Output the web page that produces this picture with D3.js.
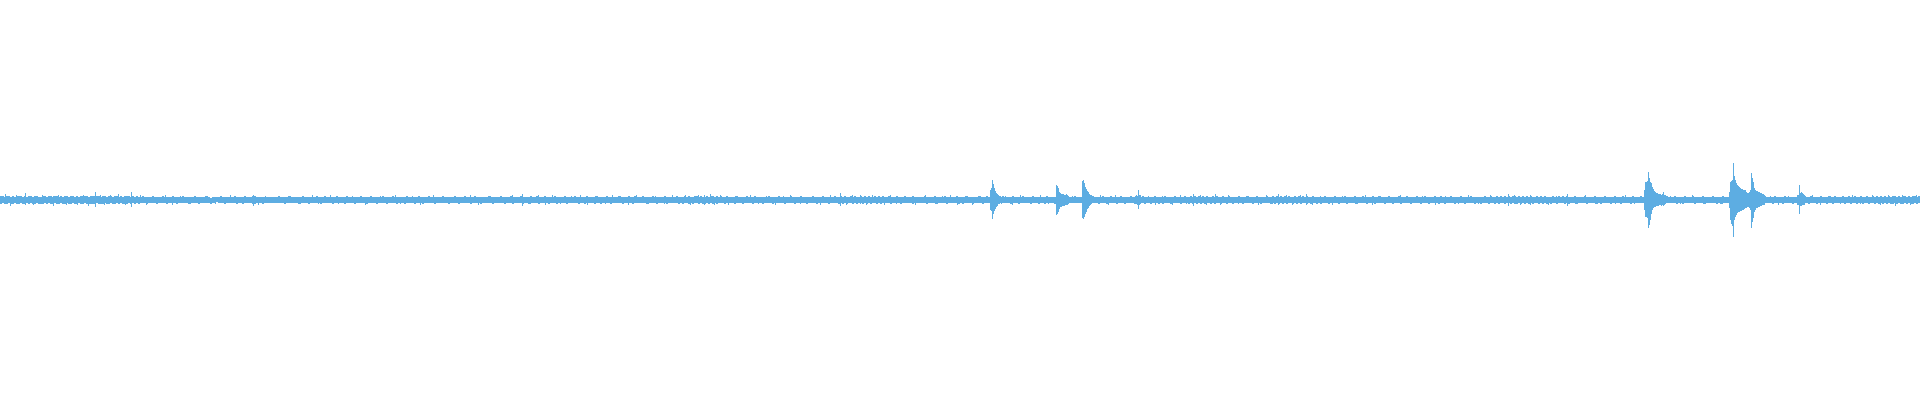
<!DOCTYPE html>
<html>
<head>
<meta charset="utf-8">
<script src="https://cdn.jsdelivr.net/npm/d3@7/dist/d3.min.js"></script>
<style>
  html, body { margin: 0; padding: 0; background: #ffffff; }
  svg { display: block; }
</style>
</head>
<body>
<svg id="chart" width="1920" height="400"></svg>
<script>
// Waveform peaks: amplitude units where full scale = 200.
// Baseline envelope, one value per 2 time bins (1920 bins total).
const baseHi = [
  4,4,3,4,4,3,4,3,4,4,4,3,4,3,4,4,3,4,4,3,
  3,4,4,3,4,4,3,4,4,3,4,3,4,4,3,4,4,3,4,3,
  4,4,4,4,3,4,4,4,4,4,3,4,4,3,4,4,3,4,4,3,
  4,3,4,4,4,3,4,3,4,3,3,4,3,3,3,3,4,3,3,3,
  3,4,3,3,3,3,4,3,3,3,3,4,3,3,3,3,3,4,3,3,
  3,3,3,4,3,2,3,3,3,3,4,3,3,3,3,3,3,4,3,3,
  3,3,4,3,3,3,4,4,3,3,3,3,3,3,3,3,3,3,3,4,
  3,3,3,3,4,3,3,3,3,3,3,4,3,3,3,3,3,3,4,3,
  3,3,4,3,3,3,3,3,4,3,3,3,3,4,3,3,3,3,3,3,
  4,3,3,3,3,4,3,3,3,3,3,4,3,3,3,3,4,3,3,3,
  3,3,3,4,3,3,3,3,3,4,3,3,3,3,4,3,3,3,3,3,
  3,4,3,3,3,3,3,4,3,3,3,3,4,3,3,3,3,4,3,3,
  3,3,3,3,4,3,3,3,3,3,4,3,3,3,3,4,3,3,3,3,
  4,3,3,3,3,4,3,3,4,3,3,3,4,3,3,3,3,4,3,3,
  3,3,4,3,3,3,3,4,3,3,3,3,3,4,3,3,3,3,4,3,
  3,3,3,4,3,3,3,3,3,4,3,3,3,3,4,3,3,4,3,3,
  3,4,3,3,3,3,4,3,3,3,3,3,4,3,3,3,3,3,4,3,
  3,3,4,3,4,3,3,4,4,3,4,3,3,4,3,4,4,3,4,3,
  4,3,3,4,3,3,3,3,4,3,3,3,3,4,3,3,3,4,3,3,
  3,3,3,3,4,3,3,3,3,4,3,3,3,3,3,4,3,3,3,3,
  4,3,3,3,3,3,4,3,3,3,3,4,3,3,3,3,3,4,3,3,
  4,3,4,3,3,4,3,4,3,3,4,3,4,3,4,3,3,4,3,4,
  3,4,3,3,4,3,3,3,4,3,3,3,4,3,3,3,4,3,3,3,
  3,3,4,3,3,3,3,4,3,3,3,3,4,3,3,3,3,3,4,3,
  3,3,3,4,3,3,3,3,3,4,3,3,3,4,3,3,3,3,3,3,
  3,4,3,3,3,3,4,3,3,3,3,4,3,3,3,3,4,3,3,3,
  3,3,3,4,3,3,3,3,4,3,3,3,3,3,3,3,3,4,3,3,
  3,3,3,3,3,3,4,3,3,3,3,4,3,3,3,4,3,3,3,3,
  4,3,3,3,3,4,3,3,3,3,3,4,3,3,3,3,3,4,3,3,
  3,3,4,3,3,3,3,4,3,3,3,3,4,3,3,4,3,4,3,4,
  3,4,3,4,3,3,4,3,4,3,3,4,3,3,4,3,3,3,3,4,
  3,3,3,4,3,3,3,3,4,3,3,3,3,4,3,3,4,3,4,3,
  4,3,4,3,4,3,3,4,3,4,3,4,3,4,3,3,4,3,3,3,
  3,3,4,3,3,3,3,4,3,3,3,3,4,3,3,3,3,4,3,3,
  3,4,3,3,3,3,4,3,3,4,3,3,3,3,4,3,3,3,3,4,
  3,3,3,4,3,3,3,3,4,3,3,3,4,3,3,3,3,4,3,3,
  4,3,3,3,3,4,3,3,3,3,4,3,3,3,3,4,3,3,3,3,
  3,3,4,3,3,4,3,3,4,3,4,3,4,3,4,3,4,4,3,4,
  3,4,3,4,3,4,3,3,4,3,4,3,4,3,3,3,4,3,3,4,
  3,4,3,4,3,3,3,4,3,3,3,3,4,3,3,3,3,4,3,3,
  3,3,4,3,3,3,3,4,3,3,3,4,3,3,3,3,4,3,3,3,
  4,3,3,3,3,3,3,3,3,3,3,3,3,4,3,3,3,4,3,3,
  3,3,4,3,3,3,4,3,3,3,3,4,3,3,3,3,4,3,3,3,
  3,4,3,3,3,3,3,3,3,3,3,3,3,3,3,3,3,3,3,3,
  3,3,4,3,3,3,3,4,3,3,3,3,4,3,3,3,3,3,3,3,
  3,3,4,3,3,4,3,3,3,3,4,3,3,3,4,3,3,4,3,3,
  3,4,3,3,4,3,3,4,3,3,4,3,3,4,3,3,4,3,4,3,
  4,3,4,3,4,3,4,4,3,4,3,4,4,3,4,3,4,4,3,4
];
const baseLo = [
  4,3,4,4,3,4,4,3,4,4,3,4,4,3,4,3,4,4,3,4,
  4,4,3,4,3,4,4,3,4,4,3,4,4,3,4,4,3,4,4,3,
  4,4,3,4,4,4,4,4,3,4,4,4,3,4,4,3,4,4,3,4,
  3,4,4,4,3,4,3,4,3,4,3,3,3,4,3,3,3,3,4,3,
  3,3,3,4,3,3,3,3,4,3,3,3,3,3,4,3,3,3,3,4,
  3,3,3,3,3,4,3,3,2,3,3,3,4,3,3,3,3,3,4,3,
  3,4,3,3,3,3,4,4,3,3,3,4,3,3,3,3,3,3,3,3,
  3,3,4,3,3,3,3,3,3,4,3,3,3,3,4,3,3,3,3,3,
  4,3,3,3,3,3,4,3,3,3,3,3,4,3,3,3,3,4,3,3,
  3,3,3,4,3,3,3,3,4,3,3,3,3,4,3,3,3,3,4,3,
  3,3,4,3,3,3,3,4,3,3,3,4,3,3,3,3,3,4,3,3,
  3,3,3,3,4,3,3,3,3,4,3,3,3,3,3,4,3,3,3,3,
  4,3,3,3,3,3,4,3,3,3,3,3,4,3,3,3,4,3,3,3,
  3,4,3,3,4,3,3,3,3,4,3,3,3,3,4,3,3,3,4,3,
  3,3,3,4,3,3,3,3,3,4,3,3,4,3,3,3,3,4,3,3,
  4,3,3,3,3,4,3,3,3,3,3,4,3,3,3,3,4,3,3,3,
  3,3,3,4,3,3,3,3,4,3,3,3,3,4,3,3,3,3,3,4,
  3,4,3,3,4,3,4,3,3,4,3,4,4,3,4,3,4,3,4,3,
  3,3,4,3,3,3,3,4,3,3,3,4,3,3,3,3,4,3,3,3,
  3,4,3,3,3,3,4,3,3,3,3,3,4,3,3,3,3,4,3,3,
  3,3,3,4,3,3,3,3,4,3,3,3,3,3,4,3,3,3,3,4,
  3,4,3,4,3,3,4,3,4,3,3,4,3,4,3,4,3,3,4,3,
  4,3,3,3,3,4,3,3,3,3,4,3,3,3,3,3,4,3,3,3,
  3,3,3,4,3,3,3,3,4,3,3,3,3,4,3,3,3,3,3,4,
  3,4,3,3,3,3,4,3,3,3,3,4,3,3,3,3,3,4,3,3,
  4,3,3,3,3,4,3,3,3,4,3,3,3,3,3,4,3,3,3,4,
  3,3,4,3,3,3,3,4,3,3,3,3,4,3,3,3,3,3,3,3,
  3,3,3,3,4,3,3,3,3,4,3,3,3,4,3,3,3,3,4,3,
  3,3,4,3,3,3,3,4,3,3,3,3,4,3,3,4,3,3,3,4,
  3,4,3,3,3,4,3,3,3,3,4,3,3,3,4,3,4,3,4,3,
  4,3,4,3,3,4,3,4,3,3,4,3,3,4,3,3,4,3,3,3,
  3,4,3,3,3,3,4,3,3,3,4,3,3,3,3,4,3,4,3,4,
  3,4,3,4,3,3,4,3,4,3,4,3,3,4,3,4,3,3,4,3,
  4,3,3,3,4,3,3,3,3,4,3,3,3,4,3,3,3,3,4,3,
  3,3,3,4,3,3,3,4,3,3,3,3,4,3,3,3,4,3,3,3,
  4,3,3,3,3,4,3,3,3,3,4,3,3,3,4,3,3,3,3,4,
  3,3,4,3,3,3,3,4,3,3,3,3,4,3,3,3,3,4,3,3,
  4,3,3,3,4,3,3,4,3,4,3,3,4,3,3,4,3,4,4,3,
  4,3,4,3,4,3,4,3,3,4,3,4,3,4,3,4,3,3,4,3,
  3,3,4,3,4,3,3,3,4,3,3,3,3,4,3,3,3,3,4,3,
  4,3,3,3,3,4,3,3,3,3,4,3,3,3,3,4,3,3,3,3,
  3,3,3,3,3,3,3,3,3,3,3,3,4,3,3,3,3,3,4,3,
  3,4,3,3,3,3,3,4,3,3,3,3,4,3,3,3,3,3,4,3,
  4,3,3,3,3,3,3,3,3,3,3,3,3,3,3,3,3,3,3,3,
  3,4,3,3,3,3,4,3,3,3,3,4,3,3,3,3,4,3,3,3,
  4,3,3,3,4,3,3,3,4,3,3,3,3,4,3,3,4,3,3,3,
  3,3,4,3,3,4,3,3,4,3,3,4,3,3,4,3,3,4,3,4,
  3,4,3,4,3,4,4,3,4,3,4,4,3,4,3,4,4,3,4,3
];

// Isolated one-bin noise peaks (0 = no peak on that side).
const tickBins = [
  5,10,16,25,33,42,53,58,66,72, 77,83,88,95,100,104,110,118,125,131,
  140,146,153,165,172,180,190,205,215,230, 245,253,258,265,290,300,312,318,
  330,338,352,365,380,395,400,412,420,433, 448,455,470,478,490,505,512,522,530,538,
  545,552,560,571,580,587,595,605,612,620, 628,636,648,655,664,672,685,690,698,704,
  710,714,720,728,735,742,750,758,766,775, 783,790,800,812,820,830,840,846,852,860,
  866,872,878,884,890,896,905,915,925,935, 942,950,957,
  965,972,980,1005,1012,1020,1030,1040,1048,1072, 1100,1108,1115,1125,1148,1155,1162,1172,1180,1186,
  1193,1200,1206,1215,1220,1228,1238,1248,1258,1266, 1272,1278,1286,1292,1300,1306,1312,1320,1332,1342,
  1355,1365,1372,1380,1392,1400,1410,1422,1435,1445, 1458,1468,1478,1490,1498,1508,1514,1520,1530,1540,
  1548,1556,1567,1575,1585,1595,1605,1615,1625,1634,
  1670,1680,1692,1703,1712,1722,1770,1778,1788,1812, 1820,1830,1840,1852,1860,1872,1880,1888,1895,1902,
  1910,1916
];
const tickHi = [
  6,0,5,7,0,5,4,5,0,4, 0,5,0,8,5,0,5,6,0,8,
  5,0,4,5,0,4,0,4,0,5, 4,5,0,4,4,0,5,0,
  5,0,4,0,4,5,0,4,0,5, 0,4,5,0,4,0,5,6,0,5,
  0,5,0,4,5,0,4,0,5,4, 0,5,0,4,0,5,5,0,5,5,
  6,0,5,0,4,0,5,0,4,0, 4,5,0,4,0,5,7,0,5,5,
  0,5,4,0,5,0,4,0,5,0, 4,5,0,
  4,0,4,4,0,5,0,5,0,4, 5,0,5,0,4,0,4,0,5,0,
  6,5,0,6,0,5,0,4,0,5, 0,6,5,0,5,6,0,4,0,4,
  0,5,0,4,0,5,0,4,0,4, 0,5,0,5,0,6,5,0,5,4,
  0,4,6,0,5,0,4,0,5,0,
  4,0,5,0,4,0,4,0,4,5, 0,4,0,5,0,5,0,5,0,5,
  0,5
];
const tickLo = [
  0,6,0,5,5,0,6,0,5,0, 5,0,6,7,0,5,0,0,5,7,
  0,5,0,0,5,0,4,0,4,0, 0,6,5,0,0,4,0,4,
  0,4,0,5,0,0,4,0,5,0, 4,0,0,5,0,4,0,6,4,0,
  5,0,4,0,0,5,0,4,0,0, 5,0,4,0,4,0,0,5,0,5,
  0,5,0,5,0,4,0,4,0,5, 0,0,4,0,5,0,6,5,0,4,
  5,0,0,5,0,4,0,5,0,4, 0,0,5,
  0,5,0,0,5,0,4,0,4,0, 0,5,0,4,0,5,0,5,0,4,
  6,0,5,0,5,0,4,0,5,0, 4,5,0,5,0,5,5,0,5,0,
  4,0,5,0,4,0,4,0,5,0, 4,0,4,0,4,6,0,5,5,0,
  5,0,6,4,0,4,0,4,0,4,
  0,4,0,4,0,4,0,5,0,0, 5,0,4,0,4,0,5,0,6,0,
  5,0
];

// Transient bursts, one value per time bin, starting at the given bin.
const burst1Start = 990;
const burst1Hi = [10,12,20,16,12,9,7,6,5,4,4];
const burst1Lo = [10,11,19,14,11,9,7,6,4,4,3];

const burst2Start = 1056;
const burst2Hi = [15,14,12,8,7,6,6,6,5,5,6,5,4];
const burst2Lo = [15,14,12,9,7,7,6,6,6,5,5,5,4];

const burst3Start = 1082;
const burst3Hi = [19,20,17,13,11,9,8,6,5,5];
const burst3Lo = [18,19,17,14,12,9,8,6,5,4];

const burst4Start = 1135;
const burst4Hi = [4,5,4,10,5,5];
const burst4Lo = [4,4,5,9,5,4];

const burst5Start = 1644;
const burst5Hi = [10,18,18,19,28,22,18,17,13,11,9,8,7,7,6,6,6,5,6,8,5,5];
const burst5Lo = [10,17,17,18,28,25,20,14,10,8,7,7,6,6,6,5,5,6,5,6,5,4];

const burst6Start = 1729;
const burst6Hi = [8,18,19,20,37,24,20,17,15,14,13,12,11,11,10,10,10,8,7,7,8,10,27,22,18,12,10,9,9,8,8,7,7,6,6,5];
const burst6Lo = [8,20,24,26,37,20,17,15,13,12,12,11,11,10,10,9,8,8,7,7,8,10,28,22,18,12,10,8,8,7,7,6,6,5,5,5];

const burst7Start = 1797;
const burst7Hi = [5,5,15,7,8,7,6,5];
const burst7Lo = [5,5,14,6,6,5,5,5];

const binCount = 1920;

// ---- build per-bin table ----
const hi = new Array(binCount), lo = new Array(binCount);
for (let b = 0; b < binCount; b++) {
  const i = Math.floor(b / 2);
  hi[b] = baseHi[Math.min(i, baseHi.length - 1)];
  lo[b] = baseLo[Math.min(i, baseLo.length - 1)];
}
tickBins.forEach((b, k) => {
  if (b >= binCount) return;
  if (tickHi[k]) hi[b] = Math.max(hi[b], tickHi[k]);
  if (tickLo[k]) lo[b] = Math.max(lo[b], tickLo[k]);
});
const bursts = [
  [burst1Start, burst1Hi, burst1Lo],
  [burst2Start, burst2Hi, burst2Lo],
  [burst3Start, burst3Hi, burst3Lo],
  [burst4Start, burst4Hi, burst4Lo],
  [burst5Start, burst5Hi, burst5Lo],
  [burst6Start, burst6Hi, burst6Lo],
  [burst7Start, burst7Hi, burst7Lo]
];
bursts.forEach(([s, h, l]) => {
  h.forEach((v, k) => { if (s + k < binCount) hi[s + k] = v; });
  l.forEach((v, k) => { if (s + k < binCount) lo[s + k] = v; });
});
const table = d3.range(binCount).map(b => ({ bin: b, hi: hi[b], lo: -lo[b] }));

const width = 1920, height = 400;
const svg = d3.select("#chart");
const x = d3.scaleLinear().domain([0, binCount]).range([0, width]);
const y = d3.scaleLinear().domain([-200, 200]).range([height, 0]);

svg.append("rect").attr("width", width).attr("height", height).attr("fill", "#ffffff");

svg.append("g")
  .attr("shape-rendering", "crispEdges")
  .selectAll("rect")
  .data(table)
  .join("rect")
  .attr("x", d => x(d.bin))
  .attr("width", d => x(d.bin + 1) - x(d.bin))
  .attr("y", d => y(d.hi))
  .attr("height", d => y(d.lo) - y(d.hi))
  .attr("fill", "#5dade2");
</script>
</body>
</html>
